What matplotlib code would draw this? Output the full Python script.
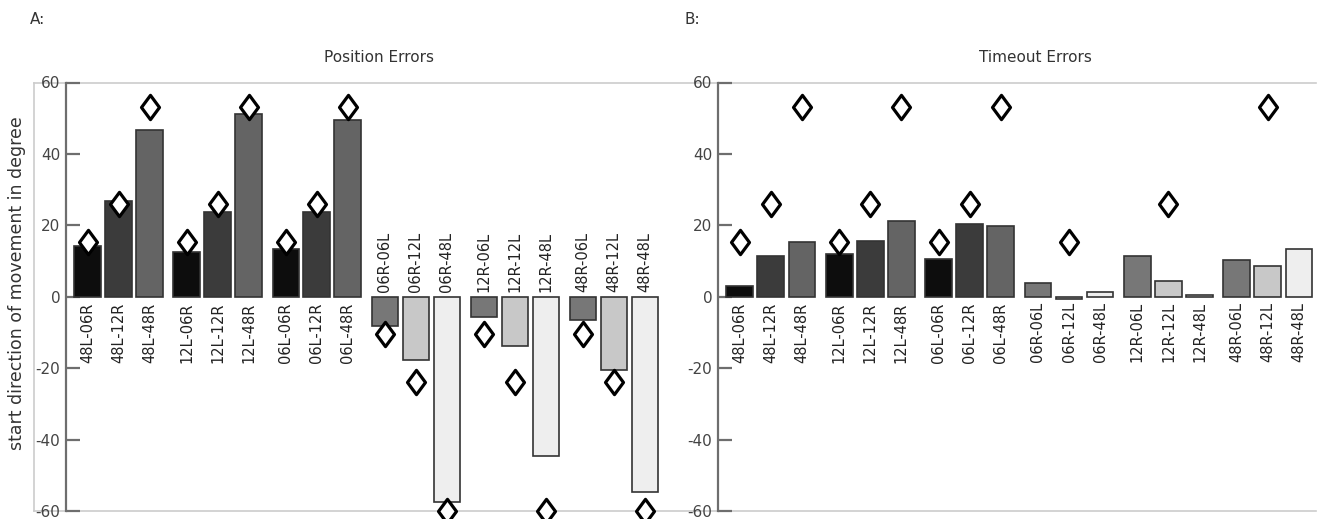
import numpy as np
import matplotlib.pyplot as plt
from matplotlib.path import Path

# conditions, in drawing order
labels = ["48L-06R", "48L-12R", "48L-48R",
          "12L-06R", "12L-12R", "12L-48R",
          "06L-06R", "06L-12R", "06L-48R",
          "06R-06L", "06R-12L", "06R-48L",
          "12R-06L", "12R-12L", "12R-48L",
          "48R-06L", "48R-12L", "48R-48L"]

# mean start direction (degree)
position_err = [14.2, 26.8, 46.8, 12.4, 23.6, 51.3, 13.3, 23.6, 49.4,
                -8.3, -17.6, -57.5, -5.8, -13.9, -44.5, -6.5, -20.5, -54.6]
timeout_err = [2.9, 11.3, 15.4, 11.9, 15.7, 21.2, 10.6, 20.3, 19.8,
               3.8, -0.6, 1.4, 11.3, 4.3, 0.6, 10.3, 8.7, 13.3]

# target directions (diamonds)
position_target = [15.4, 26, 53, 15.4, 26, 53, 15.4, 26, 53,
                   -10.4, -24, -60, -10.4, -24, -60, -10.4, -24, -60]
timeout_target = [15.4, 26, 53, 15.4, 26, 53, 15.4, 26, 53,
                  np.nan, 15.4, np.nan, np.nan, 26, np.nan, np.nan, 53, np.nan]

colors = ["#0d0d0d", "#3b3b3b", "#646464"] * 3 + ["#777777", "#c8c8c8", "#eeeeee"] * 3

# diamond a bit wider than matplotlib's thin diamond
diamond = Path([(0, 0.5), (0.37, 0), (0, -0.5), (-0.37, 0), (0, 0.5)],
               [Path.MOVETO, Path.LINETO, Path.LINETO, Path.LINETO, Path.CLOSEPOLY])

W, H = 1319, 519
fig = plt.figure(figsize=(W / 100, H / 100), dpi=100)

top, bot = 82.5, 511
axh = (bot - top) / H
axb = (H - bot) / H

# light grey frame round both panels
bg = fig.add_axes([34 / W, axb, (1316 - 34) / W, axh], zorder=0)
bg.set_xticks([])
bg.set_yticks([])
for s in ["top", "bottom", "left"]:
    bg.spines[s].set_color("#cccccc")
    bg.spines[s].set_linewidth(1.2)
bg.spines["right"].set_visible(False)
bg.patch.set_alpha(0)

x = np.array([g * 3.2 + j for g in range(6) for j in range(3)])


def panel(left, right, vals, targets, all_below):
    ax = fig.add_axes([left / W, axb, (right - left) / W, axh], zorder=1)
    ax.patch.set_alpha(0)
    ax.bar(x, vals, width=0.86, color=colors, edgecolor="#333333", linewidth=1.2, zorder=2)
    ax.plot(x, targets, linestyle="none", marker=diamond, markersize=17.5,
            markerfacecolor="white", markeredgecolor="black", markeredgewidth=2.3,
            clip_on=False, zorder=3)
    for xi, v, lab in zip(x, vals, labels):
        if v < -3 and not all_below:
            ax.annotate(lab, (xi, 0), xytext=(0, 3.5), textcoords="offset points",
                        rotation=90, ha="center", va="bottom", fontsize=10.5, color="#222222")
        else:
            ax.annotate(lab, (xi, 0), xytext=(0, -4), textcoords="offset points",
                        rotation=90, ha="center", va="top", fontsize=10.5, color="#222222")
    ax.set_xlim(-0.7, 18.55)
    ax.set_ylim(-60, 60)
    ax.set_yticks([-60, -40, -20, 0, 20, 40, 60])
    ax.set_yticklabels(["-60", "-40", "-20", "0", "20", "40", "60"])
    ax.set_xticks([])
    for s in ["top", "bottom", "right"]:
        ax.spines[s].set_visible(False)
    ax.spines["left"].set_color("#6e6e6e")
    ax.spines["left"].set_linewidth(1.6)
    ax.tick_params(axis="y", direction="in", length=10, width=1.6, color="#6e6e6e",
                   labelsize=11, labelcolor="#444444", pad=4)
    return ax


panel(66, 662, position_err, position_target, False)
panel(718, 1316, timeout_err, timeout_target, True)

fig.text(17 / W, (H - 283) / H, "start direction of movement in degree", rotation=90,
         ha="center", va="center", fontsize=12.5, color="#333333")
fig.text(379 / W, (H - 58) / H, "Position Errors", ha="center", va="center",
         fontsize=11, color="#333333")
fig.text(1035 / W, (H - 58) / H, "Timeout Errors", ha="center", va="center",
         fontsize=11, color="#333333")
fig.text(30 / W, (H - 20) / H, "A:", ha="left", va="center", fontsize=11, color="#333333")
fig.text(685 / W, (H - 20) / H, "B:", ha="left", va="center", fontsize=11, color="#333333")

fig.savefig("out.png", dpi=100)
